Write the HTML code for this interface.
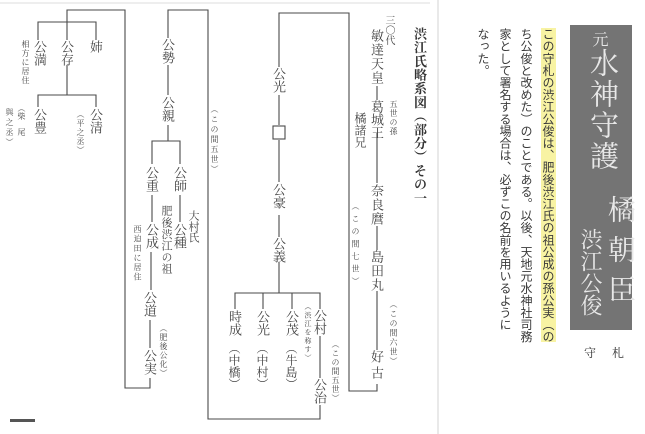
<!DOCTYPE html>
<html><head><meta charset="utf-8"><style>
html,body{margin:0;padding:0;background:#fff;}
#w{position:relative;width:645px;height:434px;overflow:hidden;background:#fff;}
.v{position:absolute;writing-mode:vertical-rl;line-height:1;white-space:nowrap;color:#444;font-family:"Liberation Serif","Noto Serif CJK SC",serif;}
.b{font-family:"Liberation Sans","Noto Sans CJK JP",sans-serif;color:#3a3a3a;}
svg{position:absolute;left:0;top:0;}
</style></head><body><div id="w">
<svg width="645" height="434" viewBox="0 0 645 434">
<line x1="0" y1="3" x2="430" y2="3" stroke="#ddd" stroke-width="1"/>
<line x1="438" y1="0" x2="438" y2="434" stroke="#e2e2e2" stroke-width="1.5"/>
<rect x="10" y="419" width="25" height="3" fill="#555"/>
<g fill="none" stroke="#4a4a4a" stroke-width="1.1">
<path d="M67,40 V10 H125 V388 H150 V378"/>
<path d="M38,40 V22 H96 V40"/>
<path d="M67,65 V95"/><path d="M38,107 V95 H96 V107"/>
<path d="M168,38 V10 H208 V419 H320 V405"/>
<path d="M168,65 V95"/><path d="M168,125 V141"/><path d="M152,164 V141 H180 V164"/>
<path d="M152,195 V222"/><path d="M180,195 V222"/>
<path d="M151,252 V290"/><path d="M150,320 V348"/>
<path d="M279,67 V13 H349 V391 H377 V384"/>
<path d="M279,95 V125"/><path d="M279,140 V182"/><path d="M279,215 V237"/><path d="M279,262 V293"/>
<path d="M235,309 V293 H320 V309"/><path d="M263,293 V309"/><path d="M292,293 V309"/>
<path d="M320,336 V378"/>
<path d="M377,86 V100"/><path d="M377,133 V183"/><path d="M377,226 V250"/><path d="M377,291 V350"/>
</g>
<rect x="273" y="126" width="12" height="13" fill="#fff" stroke="#4a4a4a" stroke-width="1.1"/>
<rect x="541" y="28" width="15" height="314" fill="#f6f08c" opacity="0.8"/>
<rect x="570" y="25" width="62" height="305" fill="#6e6e6e"/>
<rect x="570" y="25" width="62" height="305" fill="#888" opacity="0.25"/>
</svg>

<div class="v" style="left:33px;top:40px;font-size:13px">公満</div>
<div class="v" style="left:21px;top:40px;font-size:8px;letter-spacing:1px">相方に居住</div>
<div class="v" style="left:60px;top:40px;font-size:13px">公存</div>
<div class="v" style="left:89px;top:40px;font-size:13px">姉</div>
<div class="v" style="left:33px;top:108px;font-size:13px">公豊</div>
<div class="v" style="left:17px;top:104px;font-size:8px">（柴　尾</div>
<div class="v" style="left:5px;top:108px;font-size:8px;letter-spacing:2px">與之丞）</div>
<div class="v" style="left:89px;top:108px;font-size:13px">公清</div>
<div class="v" style="left:76px;top:110px;font-size:8px;letter-spacing:1px">（平之丞）</div>

<div class="v" style="left:161px;top:38px;font-size:13px">公勢</div>
<div class="v" style="left:161px;top:96px;font-size:13px">公親</div>
<div class="v" style="left:145px;top:166px;font-size:13px">公重</div>
<div class="v" style="left:173px;top:166px;font-size:13px">公師</div>
<div class="v" style="left:145px;top:223px;font-size:13px">公成</div>
<div class="v" style="left:173px;top:223px;font-size:13px">公種</div>
<div class="v" style="left:160px;top:205px;font-size:11px;letter-spacing:0.6px">肥後渋江の祖</div>
<div class="v" style="left:187px;top:210px;font-size:11px">大村氏</div>
<div class="v" style="left:133px;top:225px;font-size:8px;letter-spacing:1.5px">西迫田に居住</div>
<div class="v" style="left:143px;top:291px;font-size:13px">公道</div>
<div class="v" style="left:159px;top:324px;font-size:8px;letter-spacing:1px">（肥後公化）</div>
<div class="v" style="left:143px;top:349px;font-size:13px">公実</div>
<div class="v" style="left:210px;top:105px;font-size:8px;letter-spacing:2px">（この間五世）</div>

<div class="v" style="left:272px;top:67px;font-size:13px">公光</div>
<div class="v" style="left:272px;top:183px;font-size:13px">公豪</div>
<div class="v" style="left:272px;top:237px;font-size:13px">公義</div>
<div class="v" style="left:228px;top:310px;font-size:13px">時成</div>
<div class="v" style="left:228px;top:342px;font-size:12px">（中橋）</div>
<div class="v" style="left:256px;top:310px;font-size:13px">公光</div>
<div class="v" style="left:256px;top:342px;font-size:12px">（中村）</div>
<div class="v" style="left:285px;top:310px;font-size:13px">公茂</div>
<div class="v" style="left:285px;top:342px;font-size:12px">（牛島）</div>
<div class="v" style="left:313px;top:309px;font-size:13px">公村</div>
<div class="v" style="left:304px;top:303px;font-size:7px;letter-spacing:1.5px">（渋江を称す）</div>
<div class="v" style="left:313px;top:378px;font-size:13px">公治</div>
<div class="v" style="left:331px;top:340px;font-size:8px;letter-spacing:1px">（この間五世）</div>

<div class="v" style="left:383px;top:15px;font-size:10px">三〇代</div>
<div class="v" style="left:370px;top:29px;font-size:13px;letter-spacing:1px">敏達天皇</div>
<div class="v" style="left:389px;top:100px;font-size:8px;letter-spacing:1px">五世の孫</div>
<div class="v" style="left:370px;top:100px;font-size:13px">葛城王</div>
<div class="v" style="left:354px;top:112px;font-size:12px">橘諸兄</div>
<div class="v" style="left:370px;top:184px;font-size:13px;letter-spacing:1px">奈良麿</div>
<div class="v" style="left:351px;top:202px;font-size:8px;letter-spacing:4.5px">（この間七世）</div>
<div class="v" style="left:370px;top:250px;font-size:13px;letter-spacing:1px">島田丸</div>
<div class="v" style="left:389px;top:300px;font-size:8px;letter-spacing:1.5px">（この間六世）</div>
<div class="v" style="left:370px;top:350px;font-size:13px;letter-spacing:3px">好古</div>
<div class="v" style="left:413px;top:27px;font-size:13px;font-weight:bold;letter-spacing:0.7px;color:#333">渋江氏略系図（部分）その一</div>

<div class="v b" style="left:542px;top:28px;font-size:12px;letter-spacing:0.1px">この守札の渋江公俊は、肥後渋江氏の祖公成の孫公実（の</div>
<div class="v b" style="left:520px;top:28px;font-size:12px;letter-spacing:0.1px">ち公俊と改めた）のことである。以後、天地元水神社司務</div>
<div class="v b" style="left:499px;top:28px;font-size:12px;letter-spacing:0.1px">家として署名する場合は、必ずこの名前を用いるように</div>
<div class="v b" style="left:477px;top:28px;font-size:12px;letter-spacing:0.1px">なった。</div>

<div class="v" style="left:590px;top:31px;font-size:16px;color:#e8e8e8">元</div>
<div class="v" style="left:587px;top:48px;font-size:29px;letter-spacing:2px;color:#e8e8e8">水神守護</div>
<div class="v" style="left:605px;top:195px;font-size:28px;letter-spacing:12px;color:#e8e8e8">橘朝臣</div>
<div class="v" style="left:579px;top:228px;font-size:22px;color:#e8e8e8">渋江公俊</div>
<div style="position:absolute;left:584px;top:347px;font-size:12px;line-height:1;color:#333;font-family:'Liberation Serif','Noto Serif CJK SC',serif;letter-spacing:16px;white-space:nowrap">守札</div>
</div></body></html>
